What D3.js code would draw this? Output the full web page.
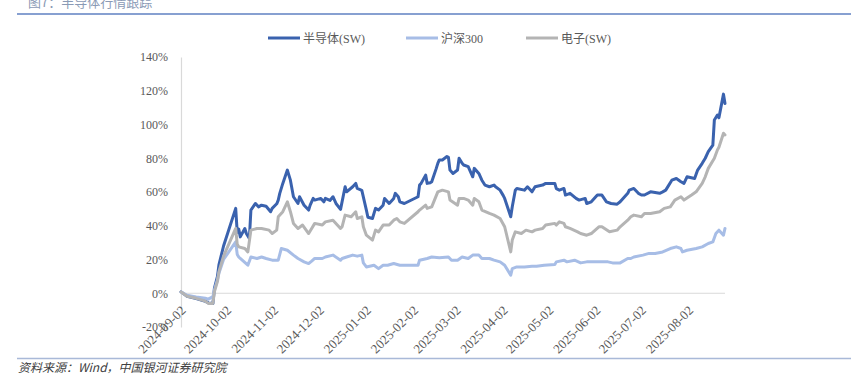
<!DOCTYPE html>
<html><head><meta charset="utf-8">
<script src="https://cdn.jsdelivr.net/npm/d3@7"></script>
<style>
html,body{margin:0;padding:0;background:#fff;}
svg{display:block;}
</style>
</head><body>
<svg id="chart" width="851" height="374"></svg>
<script>
// ---------------- DATA ----------------
const titleText = "图7：半导体行情跟踪";
const sourceText = "资料来源：Wind，中国银河证券研究院";
const seriesNames = ["半导体(SW)", "沪深300", "电子(SW)"];
const yTicks = [-20, 0, 20, 40, 60, 80, 100, 120, 140];
const xTickLabels = ["2024-09-02","2024-10-02","2024-11-02","2024-12-02","2025-01-02","2025-02-02","2025-03-02","2025-04-02","2025-05-02","2025-06-02","2025-07-02","2025-08-02"];
const xDomain = ["2024-09-02", "2025-08-26"];

const semiDates = ["2024-09-02","2024-09-06","2024-09-12","2024-09-18","2024-09-20","2024-09-23","2024-09-24","2024-09-26","2024-09-27","2024-09-30","2024-10-08","2024-10-09","2024-10-10","2024-10-11","2024-10-14","2024-10-15","2024-10-17","2024-10-18","2024-10-21","2024-10-23","2024-10-25","2024-10-28","2024-10-31","2024-11-01","2024-11-04","2024-11-05","2024-11-06","2024-11-08","2024-11-11","2024-11-13","2024-11-15","2024-11-18","2024-11-19","2024-11-22","2024-11-25","2024-11-26","2024-11-28","2024-11-29","2024-12-03","2024-12-05","2024-12-06","2024-12-09","2024-12-11","2024-12-13","2024-12-16","2024-12-19","2024-12-20","2024-12-24","2024-12-26","2024-12-27","2024-12-30","2025-01-02","2025-01-03","2025-01-06","2025-01-08","2025-01-10","2025-01-13","2025-01-14","2025-01-17","2025-01-20","2025-01-21","2025-01-23","2025-01-24","2025-01-27","2025-02-05","2025-02-06","2025-02-07","2025-02-10","2025-02-11","2025-02-13","2025-02-14","2025-02-17","2025-02-18","2025-02-19","2025-02-21","2025-02-24","2025-02-25","2025-02-26","2025-02-28","2025-03-03","2025-03-04","2025-03-06","2025-03-07","2025-03-10","2025-03-13","2025-03-14","2025-03-17","2025-03-19","2025-03-21","2025-03-24","2025-03-27","2025-03-28","2025-03-31","2025-04-02","2025-04-03","2025-04-07","2025-04-08","2025-04-10","2025-04-11","2025-04-16","2025-04-18","2025-04-21","2025-04-23","2025-04-28","2025-04-30","2025-05-06","2025-05-07","2025-05-09","2025-05-12","2025-05-13","2025-05-16","2025-05-20","2025-05-22","2025-05-26","2025-05-27","2025-05-30","2025-06-03","2025-06-06","2025-06-09","2025-06-12","2025-06-16","2025-06-18","2025-06-23","2025-06-24","2025-06-27","2025-06-30","2025-07-02","2025-07-04","2025-07-08","2025-07-14","2025-07-16","2025-07-18","2025-07-22","2025-07-25","2025-07-28","2025-07-30","2025-08-01","2025-08-06","2025-08-08","2025-08-11","2025-08-13","2025-08-15","2025-08-18","2025-08-19","2025-08-21","2025-08-22","2025-08-25","2025-08-26"];
const semiValues = [0.8,-1.8,-3.2,-4.7,-5.7,-6.1,3,10,17,28,50.3,36,38,33.4,38.4,35.4,32.5,49.3,53.2,51.2,52.2,51.6,48.3,50.3,53,55.2,59.2,65.1,73,67,57.2,53.2,57.2,52.2,49.3,52.2,56.2,55.2,56.2,54.2,56.2,55,57.2,53.2,49.7,63.1,60.1,63.1,65.1,62.1,61,49.3,45,44.3,50.3,49.3,52.2,56.2,53.2,56.2,59.2,57.2,54.2,53.2,57.2,64.1,65.1,70,65.1,65.5,66.1,74,77,79,79,81,80.5,73,71,73,80,77,76,75,69,74,71,67,64.1,63.1,64.1,63.1,61.1,58,56.2,45.3,51.2,61.1,62.1,61.1,63.1,60.1,63.1,64.1,65.1,65.1,62,61.1,62.1,58.2,59.2,56.2,55.2,56.2,53.2,54.2,58.2,58.2,54.2,53.2,52.8,54.2,59.2,61.1,62.1,59.2,58.2,58.2,60.1,59.2,60.1,61.1,67,68,66.1,65.1,69,68,73,77,80,83.9,87.8,102.7,105.6,104,118,112.5];

const hsDates = ["2024-09-02","2024-09-06","2024-09-12","2024-09-18","2024-09-20","2024-09-23","2024-09-24","2024-09-26","2024-09-27","2024-09-30","2024-10-08","2024-10-09","2024-10-10","2024-10-11","2024-10-16","2024-10-18","2024-10-22","2024-10-25","2024-10-28","2024-11-01","2024-11-05","2024-11-07","2024-11-11","2024-11-15","2024-11-18","2024-11-22","2024-11-25","2024-11-27","2024-11-29","2024-12-04","2024-12-06","2024-12-11","2024-12-16","2024-12-17","2024-12-20","2024-12-24","2024-12-27","2024-12-30","2024-12-31","2025-01-02","2025-01-07","2025-01-10","2025-01-13","2025-01-16","2025-01-20","2025-01-24","2025-01-27","2025-02-05","2025-02-06","2025-02-11","2025-02-14","2025-02-19","2025-02-25","2025-02-27","2025-03-03","2025-03-06","2025-03-10","2025-03-13","2025-03-17","2025-03-19","2025-03-24","2025-03-27","2025-03-31","2025-04-03","2025-04-07","2025-04-08","2025-04-11","2025-04-16","2025-04-21","2025-04-24","2025-04-29","2025-05-06","2025-05-07","2025-05-12","2025-05-14","2025-05-19","2025-05-23","2025-05-27","2025-06-03","2025-06-05","2025-06-10","2025-06-13","2025-06-18","2025-06-23","2025-06-25","2025-06-27","2025-07-03","2025-07-07","2025-07-11","2025-07-16","2025-07-21","2025-07-25","2025-07-28","2025-07-29","2025-08-01","2025-08-07","2025-08-11","2025-08-15","2025-08-18","2025-08-20","2025-08-22","2025-08-25","2025-08-26"];
const hsValues = [0.8,-1.2,-2.2,-3,-3.5,-2,2,8,12,20,30.4,23,21.5,20.6,16.6,21.5,20.6,21.5,20.6,19.6,19.6,26.5,25.5,22.6,20.6,18.6,17.6,19,20.6,20.6,21.5,22.6,19.6,20.6,21.5,22.6,22,22.6,18,15.6,16.6,14.6,16.6,16.6,17.6,16.6,16.6,16.6,19.6,20.6,21.5,21,21.5,19.6,19.6,21.5,20.6,22.6,22.6,20.6,20.6,19.6,18.6,16.6,10.7,14.6,15.6,15.6,16,16,16.6,17,18.6,19.6,18.6,19.6,18,18.6,18.6,18.6,18.6,18,18,20.6,20.6,21.5,22.6,23.6,23.6,24.5,26.5,27.5,26.5,24.5,25.5,26.5,27.5,29.5,30.4,35.4,37.4,34.4,38.4];

const elecDates = ["2024-09-02","2024-09-06","2024-09-12","2024-09-18","2024-09-20","2024-09-23","2024-09-24","2024-09-26","2024-09-27","2024-09-30","2024-10-08","2024-10-09","2024-10-10","2024-10-14","2024-10-16","2024-10-18","2024-10-22","2024-10-25","2024-10-30","2024-11-01","2024-11-04","2024-11-05","2024-11-08","2024-11-11","2024-11-13","2024-11-15","2024-11-18","2024-11-21","2024-11-25","2024-11-27","2024-11-29","2024-12-04","2024-12-06","2024-12-11","2024-12-16","2024-12-17","2024-12-19","2024-12-23","2024-12-26","2024-12-27","2024-12-30","2024-12-31","2025-01-02","2025-01-06","2025-01-08","2025-01-10","2025-01-13","2025-01-17","2025-01-20","2025-01-22","2025-01-24","2025-01-27","2025-02-05","2025-02-06","2025-02-10","2025-02-11","2025-02-14","2025-02-18","2025-02-21","2025-02-25","2025-02-26","2025-03-03","2025-03-04","2025-03-07","2025-03-10","2025-03-13","2025-03-14","2025-03-17","2025-03-19","2025-03-24","2025-03-27","2025-03-31","2025-04-03","2025-04-07","2025-04-08","2025-04-10","2025-04-14","2025-04-17","2025-04-21","2025-04-23","2025-04-28","2025-04-30","2025-05-06","2025-05-07","2025-05-09","2025-05-12","2025-05-13","2025-05-16","2025-05-21","2025-05-23","2025-05-27","2025-05-30","2025-06-04","2025-06-06","2025-06-11","2025-06-16","2025-06-18","2025-06-23","2025-06-25","2025-06-27","2025-07-02","2025-07-04","2025-07-08","2025-07-14","2025-07-17","2025-07-21","2025-07-24","2025-07-28","2025-07-30","2025-08-04","2025-08-07","2025-08-11","2025-08-13","2025-08-15","2025-08-19","2025-08-21","2025-08-22","2025-08-25","2025-08-26"];
const elecValues = [0.8,-1.8,-3,-4.7,-6,-6,1,7,13,22,38.4,29,27.5,26.5,24.5,37.4,38.4,38.4,37.4,35.4,37.4,45.3,48.3,54.2,48.3,41.4,38.4,40.4,35.4,38.4,41.4,40.4,42.3,43.3,38.4,39.4,46.3,45.3,48.3,44.3,45.3,39.4,34.4,31.5,37.4,36.4,40.4,40.4,43.3,44.3,42.3,41.4,48.3,49.3,52.2,50.3,51.2,60.1,61.1,60.1,55.2,52.2,56.2,56.2,55.2,52.2,56.2,54.2,49.3,47.3,46.3,44.3,39.4,24.5,31.5,36.4,35.4,37.4,36.4,37.4,38.4,40.4,41.4,40.4,42.3,41.4,39.4,38.4,36.4,35.4,34.4,35.4,39.4,39.4,36.4,37.4,39.4,43.3,45.3,46.3,45.3,47.3,47.3,48.3,50.3,51.2,55.2,57.2,55.2,58.2,60.1,65.1,69,74,80,84.9,86.5,94.8,93.8];

const seriesColors = ["#3A62AE", "#A7BDE6", "#B4B4B4"];

// ---------------- CHART ----------------
const parse = d3.timeParse("%Y-%m-%d");
const svg = d3.select("#chart");
const serif = "'Times New Roman','Liberation Serif','Noto Sans CJK SC',serif";
const cjk = "'Noto Sans CJK SC','Liberation Serif',sans-serif";

const x = d3.scaleTime().domain(xDomain.map(parse)).range([181, 725]);
const y = d3.scaleLinear().domain([-20, 140]).range([327, 57]);

// title & frame lines
svg.append("text").attr("x", 28).attr("y", 7).attr("font-family", cjk).attr("font-size", 13)
  .attr("fill", "#8A9AB5").text(titleText);
svg.append("line").attr("x1", 17).attr("x2", 851).attr("y1", 14).attr("y2", 14)
  .attr("stroke", "#5F80C2").attr("stroke-width", 1.5);
svg.append("line").attr("x1", 17).attr("x2", 851).attr("y1", 358.5).attr("y2", 358.5)
  .attr("stroke", "#A9B9D8").attr("stroke-width", 1.5);
svg.append("text").attr("x", 18).attr("y", 372).attr("font-family", cjk).attr("font-size", 12)
  .attr("font-style", "italic").attr("fill", "#404040").text(sourceText);

// y axis
const yAxis = svg.append("g").attr("transform", "translate(181,0)")
  .call(d3.axisLeft(y).tickValues(yTicks).tickSize(0).tickPadding(13).tickFormat(d => d + "%"));
yAxis.select(".domain").attr("stroke", "#D9D9D9").attr("stroke-width", 1.2);
yAxis.selectAll("text").attr("font-family", serif).attr("font-size", 12).attr("fill", "#595959");

// zero line
svg.append("line").attr("x1", x.range()[0]).attr("x2", x.range()[1])
  .attr("y1", y(0)).attr("y2", y(0)).attr("stroke", "#D9D9D9").attr("stroke-width", 1.2);

// x axis labels
const xAxis = svg.append("g").attr("transform", `translate(0,${y(0)})`)
  .call(d3.axisBottom(x).tickValues(xTickLabels.map(parse)).tickSize(0)
    .tickFormat((d, i) => xTickLabels[i]));
xAxis.select(".domain").remove();
xAxis.selectAll("text").attr("font-family", serif).attr("font-size", 13).attr("fill", "#595959")
  .attr("text-anchor", "end").attr("dy", null).attr("y", 0)
  .attr("transform", "translate(5,18) rotate(-45)");

// lines
const line = d3.line().x(d => x(d[0])).y(d => y(d[1])).curve(d3.curveLinear);
const seriesData = [
  semiDates.map((d, i) => [parse(d), semiValues[i]]),
  hsDates.map((d, i) => [parse(d), hsValues[i]]),
  elecDates.map((d, i) => [parse(d), elecValues[i]])
];
seriesData.forEach((s, i) => {
  svg.append("path").datum(s).attr("d", line).attr("fill", "none")
    .attr("stroke", seriesColors[i]).attr("stroke-width", 3)
    .attr("stroke-linejoin", "round").attr("stroke-linecap", "round");
});

// legend
const legendX = [268, 406, 526];
seriesNames.forEach((n, i) => {
  const g = svg.append("g").attr("transform", `translate(${legendX[i]},38)`);
  g.append("line").attr("x1", 0).attr("x2", 32).attr("y1", 0).attr("y2", 0)
    .attr("stroke", seriesColors[i]).attr("stroke-width", 3);
  g.append("text").attr("x", 35).attr("y", 4.5).attr("font-family", serif).attr("font-size", 12)
    .attr("fill", "#595959").text(n);
});
</script>
</body></html>
